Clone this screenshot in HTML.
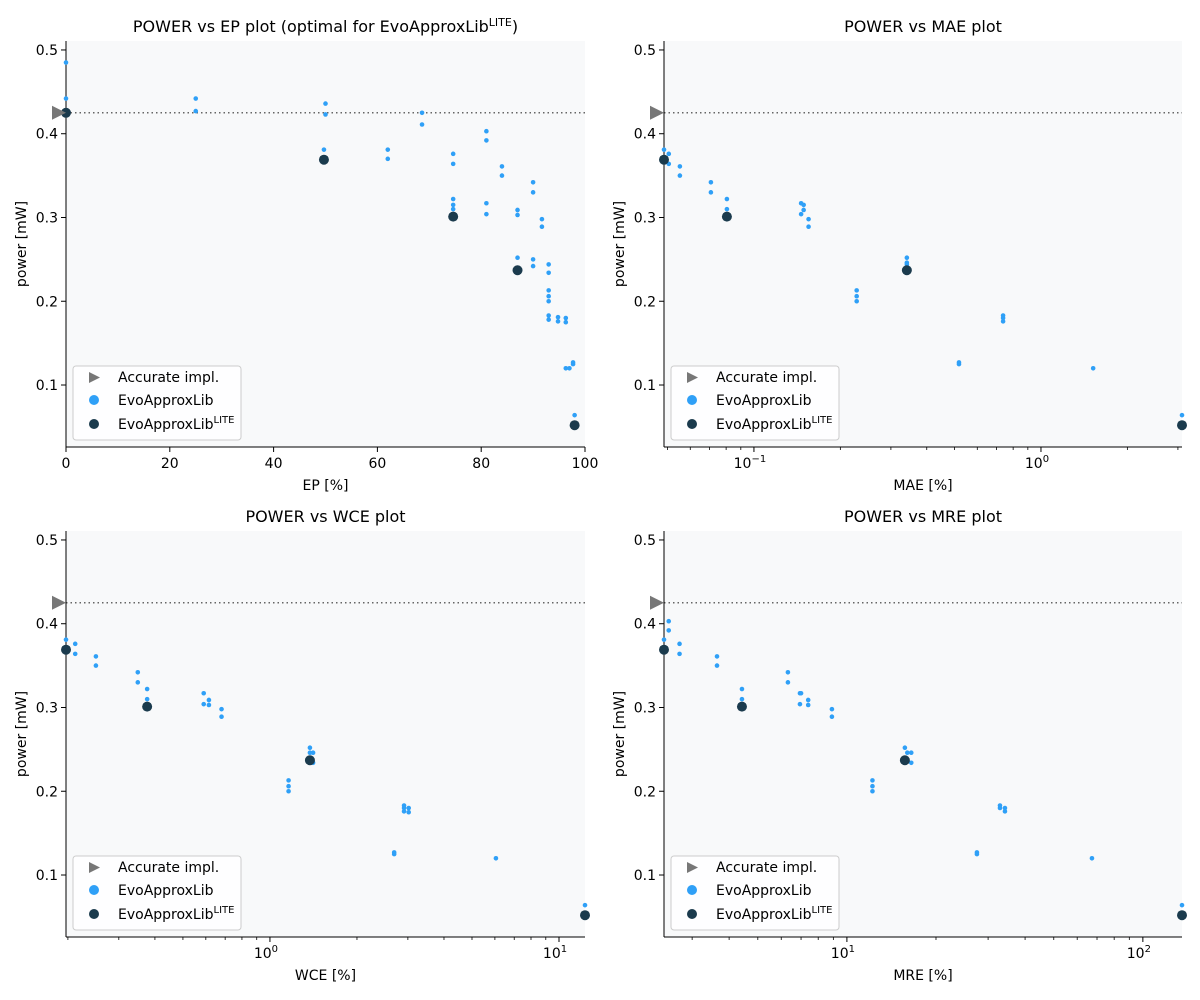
<!DOCTYPE html>
<html><head><meta charset="utf-8"><style>
html,body{margin:0;padding:0;background:#fff}
svg{display:block;font-family:"DejaVu Sans","Liberation Sans",sans-serif}
</style></head><body>
<svg id="fig" width="1200" height="1000" viewBox="0 0 1200 1000" xmlns="http://www.w3.org/2000/svg"></svg>
<script>
// ---- data ----
const epX = [0,0,0,25,25,50,50,49.7,62,62,68.6,68.6,74.6,74.6,74.6,74.6,74.6,81,81,81,81,84,84,87,87,87,90,90,90,90,91.7,91.7,93,93,93,93,93,93,93,94.8,94.8,96.3,96.3,96.3,97,97.7,97.7,98];
const epY = [0.485,0.442,0.425,0.442,0.427,0.436,0.423,0.381,0.381,0.370,0.425,0.411,0.376,0.364,0.322,0.315,0.310,0.403,0.392,0.317,0.304,0.361,0.350,0.309,0.303,0.252,0.342,0.330,0.250,0.242,0.298,0.289,0.244,0.234,0.213,0.206,0.200,0.183,0.178,0.181,0.176,0.180,0.175,0.120,0.120,0.127,0.125,0.064];
const epLiteX = [0,49.7,74.6,87,98];
const liteY = [0.425,0.369,0.301,0.237,0.052];

const maeX = [0.0486,0.049,0.0505,0.0505,0.0552,0.0552,0.0708,0.0708,0.0805,0.0805,0.146,0.146,0.149,0.149,0.155,0.155,0.228,0.228,0.228,0.341,0.341,0.341,0.518,0.518,0.738,0.738,0.738,1.52,3.1];
const maeY = [0.381,0.370,0.376,0.364,0.361,0.350,0.342,0.330,0.322,0.310,0.317,0.304,0.309,0.315,0.298,0.289,0.213,0.206,0.200,0.252,0.246,0.244,0.127,0.125,0.183,0.180,0.176,0.120,0.064];
const maeLiteX = [0.0486,0.0805,0.341,3.1];
const maeLiteY = [0.369,0.301,0.237,0.052];

const wceX = [0.197,0.212,0.212,0.25,0.25,0.349,0.349,0.376,0.376,0.59,0.59,0.615,0.615,0.68,0.68,1.16,1.16,1.16,1.375,1.375,1.41,1.41,2.91,2.91,2.91,3.02,3.02,2.69,2.69,6.05,12.3];
const wceY = [0.381,0.376,0.364,0.361,0.350,0.342,0.330,0.322,0.310,0.317,0.304,0.309,0.303,0.298,0.289,0.213,0.206,0.200,0.252,0.246,0.246,0.234,0.183,0.180,0.176,0.180,0.175,0.127,0.125,0.120,0.064];
const wceLiteX = [0.197,0.376,1.375,12.3];
const wceLiteY = [0.369,0.301,0.237,0.052];

const mreX = [2.41,2.5,2.5,2.72,2.72,3.64,3.64,4.42,4.42,6.32,6.32,6.94,6.94,7.0,7.4,7.4,8.9,8.9,12.2,12.2,12.2,15.7,16.0,16.5,16.5,32.9,32.9,34.2,34.2,27.5,27.5,67.3,135.6];
const mreY = [0.381,0.403,0.392,0.376,0.364,0.361,0.350,0.322,0.310,0.342,0.330,0.317,0.304,0.317,0.309,0.303,0.298,0.289,0.213,0.206,0.200,0.252,0.246,0.246,0.234,0.183,0.180,0.180,0.176,0.127,0.125,0.120,0.064];
const mreLiteX = [2.41,4.42,15.7,135.6];
const mreLiteY = [0.369,0.301,0.237,0.052];

const yTicks = [0.1,0.2,0.3,0.4,0.5];
const epTicks = [0,20,40,60,80,100];
const accurateY = 0.425;

// ---- drawing ----
const NS = "http://www.w3.org/2000/svg";
const svg = document.getElementById('fig');
function el(tag, attrs, parent, text){
  const e = document.createElementNS(NS, tag);
  for (const k in attrs) e.setAttribute(k, attrs[k]);
  if (text !== undefined) e.textContent = text;
  (parent||svg).appendChild(e);
  return e;
}
const EVO = '#2fa0f7', LITE = '#1b3b4d';

function panel(p){
  const g = el('g', {}, svg);
  
  
  const L=p.x0, R=p.x1, T=p.y0, B=p.y1;
  const yMin=0.026, yMax=0.5107;
  const sy = v => B - (v - yMin)/(yMax - yMin)*(B - T);
  let sx;
  if (p.log) { const a=Math.log10(p.xmin), b=Math.log10(p.xmax); sx = v => L + (Math.log10(v)-a)/(b-a)*(R-L); }
  else sx = v => L + (v-p.xmin)/(p.xmax-p.xmin)*(R-L);

  const bg = el('rect', {x:L,y:T,width:R-L,height:B-T,fill:'#f8f9fa'}, g);
  
  

  // dotted accurate line
  const dl = el('line', {x1:L,x2:R,y1:sy(accurateY),y2:sy(accurateY),stroke:'#666','stroke-width':1.5,'stroke-dasharray':'1.5,3'}, g);
  
  

  // y ticks
  yTicks.forEach(v=>{
    const y=sy(v);
    el('line',{x1:L-5,x2:L,y1:y,y2:y,stroke:'#000','stroke-width':1},g);
    const t = el('text',{x:L-8,y:y+5,'text-anchor':'end','font-size':14,fill:'#000'},g,v.toFixed(1));
    
    
  });
  // x ticks
  if (p.log){
    const d0=Math.floor(Math.log10(p.xmin)), d1=Math.ceil(Math.log10(p.xmax));
    for(let d=d0; d<=d1; d++){
      for(let k=1;k<10;k++){
        const v=k*Math.pow(10,d);
        if(v<p.xmin*0.999||v>p.xmax*1.001) continue;
        const x=sx(v);
        el('line',{x1:x,x2:x,y1:B,y2:B+(k===1?5:3),stroke:'#000','stroke-width':k===1?1:0.8},g);
        if(k===1){
          const t=el('text',{x:x-4,y:B+21,'text-anchor':'middle','font-size':14,fill:'#000'},g,'10');
          
          
          el('tspan',{dy:-6,'font-size':10},t,(d<0?'\u2212':'')+Math.abs(d));
        }
      }
    }
  } else {
    epTicks.forEach(v=>{
      const x=sx(v);
      el('line',{x1:x,x2:x,y1:B,y2:B+5,stroke:'#000','stroke-width':1},g);
      const t=el('text',{x:x,y:B+21,'text-anchor':'middle','font-size':14,fill:'#000'},g,String(v));
      
      
    });
  }
  // spines
  el('line',{x1:L,x2:L,y1:T,y2:B,stroke:'#000','stroke-width':1},g);
  el('line',{x1:L,x2:R,y1:B,y2:B,stroke:'#000','stroke-width':1},g);

  // points
  p.xs.forEach((v,i)=>{
    const c=el('circle',{cx:sx(v),cy:sy(p.ys[i]),r:2.3,fill:EVO},g);
    
    
  });
  p.lx.forEach((v,i)=>{
    const c=el('circle',{cx:sx(v),cy:sy(p.ly[i]),r:5,fill:LITE},g);
    
    
  });
  // accurate marker
  const ay=sy(accurateY), ax=L-7;
  const tri=el('polygon',{points:`${ax-7},${ay-7} ${ax-7},${ay+7} ${ax+7},${ay}`,fill:'#777'},g);
  
  

  // title
  const tt=el('text',{x:(L+R)/2,y:T-9,'text-anchor':'middle','font-size':16,fill:'#000'},g);
  
  
  if(p.titleSup){
    tt.appendChild(document.createTextNode(p.title));
    el('tspan',{dy:-6,'font-size':11},tt,'LITE');
    el('tspan',{dy:6},tt,')');
  } else tt.textContent=p.title;
  // axis labels
  const xl=el('text',{x:(L+R)/2,y:B+43,'text-anchor':'middle','font-size':14,fill:'#000'},g,p.xlabel);
  
  
  const yl=el('text',{x:0,y:0,'text-anchor':'middle','font-size':14,fill:'#000',transform:`translate(${L-40},${(T+B)/2}) rotate(-90)`},g,'power [mW]');
  
  

  // legend
  const lg=el('g',{},g);
  
  
  const lx=L+7, ly=B-81;
  el('rect',{x:lx,y:ly,width:168,height:74,rx:3,fill:'#fff','fill-opacity':0.85,stroke:'#ccc','stroke-width':1},lg);
  el('polygon',{points:`${lx+16},${ly+6} ${lx+16},${ly+17} ${lx+27},${ly+11.5}`,fill:'#777'},lg);
  const e1=el('text',{x:lx+45,y:ly+16,'font-size':14,fill:'#000'},lg,'Accurate impl.');
  
  
  el('circle',{cx:lx+21,cy:ly+34,r:5,fill:EVO},lg);
  const e2=el('text',{x:lx+45,y:ly+39,'font-size':14,fill:'#000'},lg,'EvoApproxLib');
  
  
  el('circle',{cx:lx+21,cy:ly+58,r:5,fill:LITE},lg);
  const e3=el('text',{x:lx+45,y:ly+63,'font-size':14,fill:'#000'},lg,'EvoApproxLib');
  
  
  el('tspan',{dy:-6,'font-size':10},e3,'LITE');
}

panel({name:'power-vs-ep-chart',x0:66,x1:585,y0:41,y1:447,log:false,xmin:0,xmax:100,xs:epX,ys:epY,lx:epLiteX,ly:liteY,title:'POWER vs EP plot (optimal for EvoApproxLib',titleSup:true,xlabel:'EP [%]'});
panel({name:'power-vs-mae-chart',x0:664,x1:1182,y0:41,y1:447,log:true,xmin:0.0486,xmax:3.1,xs:maeX,ys:maeY,lx:maeLiteX,ly:maeLiteY,title:'POWER vs MAE plot',xlabel:'MAE [%]'});
panel({name:'power-vs-wce-chart',x0:66,x1:585,y0:531,y1:937,log:true,xmin:0.197,xmax:12.3,xs:wceX,ys:wceY,lx:wceLiteX,ly:wceLiteY,title:'POWER vs WCE plot',xlabel:'WCE [%]'});
panel({name:'power-vs-mre-chart',x0:664,x1:1182,y0:531,y1:937,log:true,xmin:2.41,xmax:135.6,xs:mreX,ys:mreY,lx:mreLiteX,ly:mreLiteY,title:'POWER vs MRE plot',xlabel:'MRE [%]'});
</script>
</body></html>
